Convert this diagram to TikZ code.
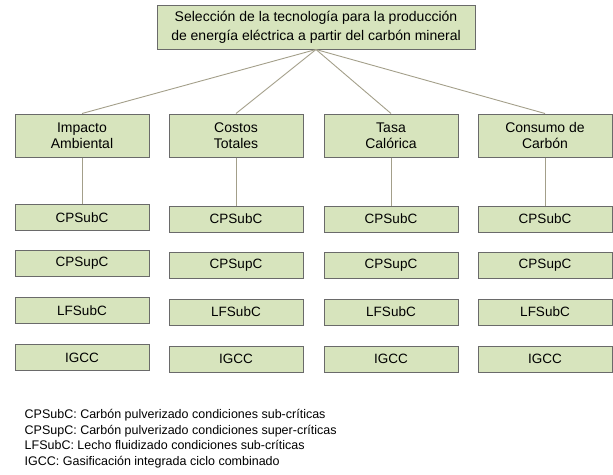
\documentclass[tikz,border=0pt]{standalone}
\usepackage{fontspec}
\setmainfont{Liberation Sans}
\usetikzlibrary{positioning}
\definecolor{BoxFill}{HTML}{D7E4BD}
\definecolor{BoxLine}{HTML}{6A6A6A}
\definecolor{Link}{HTML}{A39F8A}

\begin{document}
\begin{tikzpicture}[x=1pt,y=-1pt,
  box/.style={draw=BoxLine,fill=BoxFill,line width=1pt,minimum width=134pt,inner sep=0pt,align=center},
  critbox/.style={box,minimum height=43pt,font=\fontsize{14}{16.5}\selectfont},
  techbox/.style={box,minimum height=26pt,font=\fontsize{13.5}{16}\selectfont},
  link/.style={draw=Link,line width=0.9pt}]
  \useasboundingbox (0,0) rectangle (613,474);
  % objetivo
  \node[box,minimum width=318pt,minimum height=44pt,font=\fontsize{14}{19}\selectfont] (goal) at (316,27)
    {Selección de la tecnología para la producción\\de energía eléctrica a partir del carbón mineral};
  % criterios y tecnologias
  \foreach \name/\xc/\dy/\txt in {impacto/82/-1.5/{Impacto\\Ambiental},costos/236/0/{Costos\\Totales},
      tasa/391/0/{Tasa\\Calórica},consumo/545/0/{Consumo de\\Carbón}} {
    \node[critbox] (\name) at (\xc,135.5) {\txt};
    \node[techbox] (\name-cpsub) at ({\xc},{219+\dy}) {CPSubC};
    \node[techbox] (\name-cpsup) at ({\xc},{265+\dy}) {CPSupC};
    \node[techbox] (\name-lfsub) at ({\xc},{312+\dy}) {LFSubC};
    \node[techbox] (\name-igcc) at ({\xc},{359+\dy}) {IGCC};
    \draw[link] (goal.south) -- (\name.north);
    \draw[link] (\name.south) -- (\name-cpsub.north);
  }
  % leyenda
  \node[anchor=west,align=left,inner sep=0pt,font=\fontsize{12.5}{15.6}\selectfont] (legend) at (24.5,438.5)
    {CPSubC: Carbón pulverizado condiciones sub-críticas\\
     CPSupC: Carbón pulverizado condiciones super-críticas\\
     LFSubC: Lecho fluidizado condiciones sub-críticas\\
     IGCC: Gasificación integrada ciclo combinado};
\end{tikzpicture}
\end{document}
